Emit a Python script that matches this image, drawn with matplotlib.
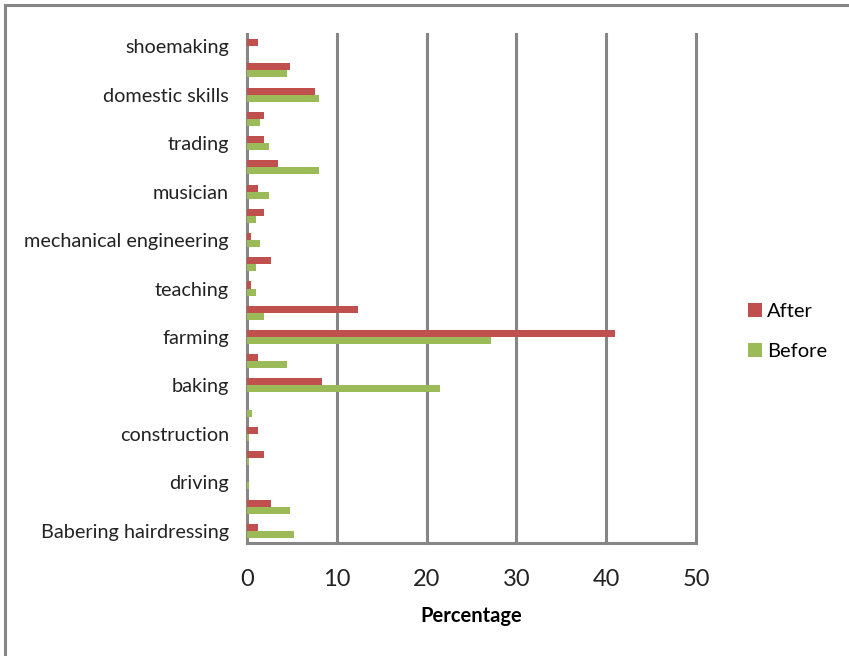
import matplotlib
matplotlib.use("Agg")
import matplotlib.pyplot as plt
from matplotlib.patches import Rectangle
import numpy as np

plt.rcParams['font.family'] = ['Lato', 'DejaVu Sans']

# occupations, top to bottom; only every second one gets a label
categories = ["shoemaking", "", "domestic skills", "", "trading", "",
              "musician", "", "mechanical engineering", "", "teaching", "",
              "farming", "", "baking", "", "construction", "",
              "driving", "", "Babering hairdressing"]
after = [1.2, 4.8, 7.6, 1.9, 1.9, 3.4, 1.2, 1.9, 0.5, 2.7, 0.5, 12.4,
         41.0, 1.2, 8.3, 0.0, 1.2, 1.9, 0.0, 2.7, 1.2]
before = [0.0, 4.4, 8.0, 1.5, 2.4, 8.0, 2.4, 1.0, 1.5, 1.0, 1.0, 1.9,
          27.2, 4.4, 21.5, 0.6, 0.2, 0.2, 0.2, 4.8, 5.2]
xticks = [0, 10, 20, 30, 40, 50]

RED = "#C0504D"
GREEN = "#9BBB59"
GRID = "#868686"

W, H = 849, 656
fig = plt.figure(figsize=(W / 100, H / 100), dpi=100)
ax = fig.add_axes([247 / W, 1 - 543 / H, (696 - 247) / W, (543 - 34) / H])

y = np.arange(len(categories))
h = 0.29
ax.barh(y - h / 2, after, height=h, color=RED, label="After", zorder=3)
ax.barh(y + h / 2, before, height=h, color=GREEN, label="Before", zorder=3)

ax.set_ylim(len(categories) - 0.5, -0.5)
ax.set_xlim(0, 50)
ax.set_yticks(y)
ax.set_yticklabels(categories, fontsize=14.3, color="#222222")
ax.set_xticks(xticks)
ax.set_xticklabels([str(t) for t in xticks], fontsize=17, color="#222222")
ax.tick_params(axis="y", length=0, pad=13)
ax.tick_params(axis="x", length=0, pad=19)

for t in xticks[1:]:
    ax.axvline(t, color=GRID, lw=2.2, zorder=1, clip_on=False)
for side in ("top", "right"):
    ax.spines[side].set_visible(False)
for side in ("left", "bottom"):
    ax.spines[side].set_color(GRID)
    ax.spines[side].set_linewidth(2.2)

ax.set_xlabel("Percentage", fontsize=14.5, fontweight="bold", labelpad=11)

leg = ax.legend(loc="center left", bbox_to_anchor=(1.075, 0.415), frameon=False,
                fontsize=14.5, handlelength=0.7, handleheight=0.7,
                handletextpad=0.25, labelspacing=1.15)

# chart area frame
fig.patches.append(Rectangle((5 / W, -0.05), 1.1, 1 - 5 / H + 0.05,
                             transform=fig.transFigure, fill=False,
                             edgecolor=GRID, lw=2.2))

fig.savefig("out.png", dpi=100)
